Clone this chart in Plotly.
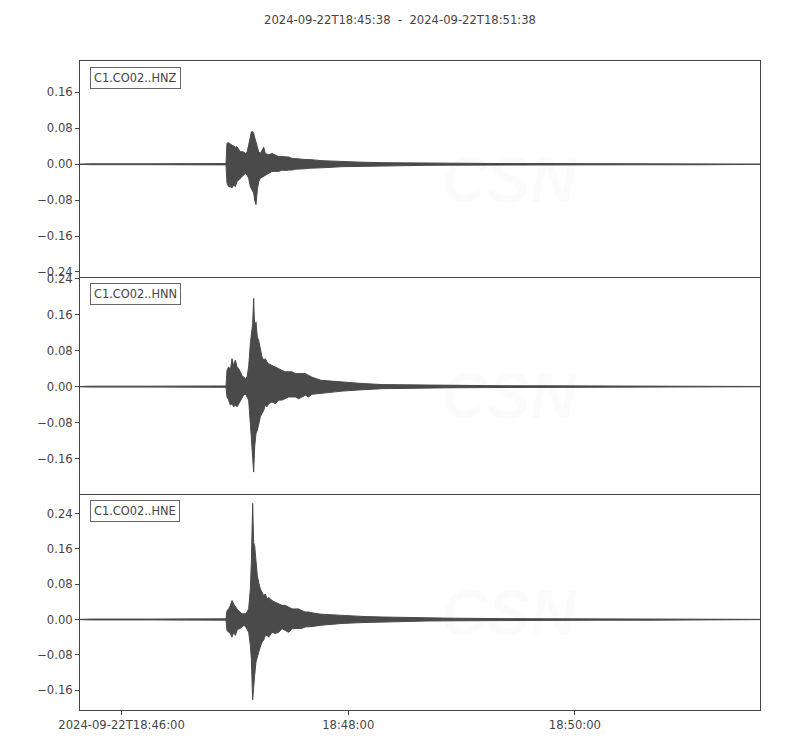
import pandas as pd
import plotly.graph_objects as go
from plotly.subplots import make_subplots

# ---------------- data ----------------
START = "2024-09-22 18:45:38"
TITLE = "2024-09-22T18:45:38  -  2024-09-22T18:51:38"
CHANNELS = ["C1.CO02..HNZ", "C1.CO02..HNN", "C1.CO02..HNE"]

# sample times in seconds after START (envelope read points)
T_SEC = [0.0, 2.6, 5.3, 37.1, 63.5, 77.3,
         77.82, 78.71, 79.59, 80.47, 81.35, 82.24, 83.12, 84.00, 84.88, 85.76,
         86.65, 87.53, 88.41, 89.29, 90.18, 90.71, 91.41, 91.94, 92.47, 93.18,
         93.88, 94.59, 95.47, 96.35, 97.24, 98.12, 99.00, 99.88, 101.65, 103.41,
         105.18, 106.94, 108.71, 110.47, 112.24, 114.00, 115.76, 117.53, 119.29,
         121.06, 122.82,
         127.6, 138.7, 149.3, 160.4, 171.5, 182.6, 195.9, 222.4, 248.8, 275.3,
         301.8, 328.2, 352.1, 357.4, 360.0]

# upper / lower envelope of each trace
TOP_HNZ = [0.0003, 0.0008, 0.001, 0.001, 0.001, 0.0015,
           0.047, 0.048, 0.045, 0.043, 0.041, 0.038, 0.039, 0.032, 0.028, 0.028,
           0.027, 0.024, 0.026, 0.043, 0.061, 0.072, 0.073, 0.069, 0.060, 0.050,
           0.036, 0.028, 0.024, 0.030, 0.038, 0.024, 0.022, 0.021, 0.024, 0.021,
           0.017, 0.017, 0.016, 0.016, 0.013, 0.013, 0.012, 0.011, 0.011,
           0.010, 0.010,
           0.008, 0.0055, 0.0045, 0.0035, 0.003, 0.0025, 0.002, 0.0015, 0.0015, 0.0012,
           0.0012, 0.0012, 0.001, 0.0006, 0.0003]
BOT_HNZ = [-0.0003, -0.0008, -0.001, -0.001, -0.001, -0.0015,
           -0.042, -0.050, -0.050, -0.053, -0.046, -0.050, -0.039, -0.035, -0.033, -0.027,
           -0.024, -0.020, -0.024, -0.031, -0.050, -0.055, -0.060, -0.064, -0.080, -0.090,
           -0.057, -0.039, -0.031, -0.029, -0.027, -0.024, -0.022, -0.020, -0.016, -0.016,
           -0.016, -0.013, -0.014, -0.013, -0.013, -0.011, -0.011, -0.010, -0.010,
           -0.009, -0.009,
           -0.008, -0.0055, -0.0045, -0.0035, -0.003, -0.0025, -0.002, -0.0015, -0.0015, -0.0012,
           -0.0012, -0.0012, -0.001, -0.0006, -0.0003]

TOP_HNN = [0.0003, 0.0008, 0.001, 0.001, 0.001, 0.0015,
           0.036, 0.044, 0.036, 0.062, 0.047, 0.059, 0.044, 0.040, 0.033, 0.025,
           0.021, 0.018, 0.021, 0.044, 0.096, 0.120, 0.140, 0.196, 0.130, 0.144,
           0.110, 0.103, 0.084, 0.066, 0.059, 0.062, 0.055, 0.051, 0.047, 0.044,
           0.040, 0.036, 0.033, 0.033, 0.033, 0.029, 0.029, 0.029, 0.029,
           0.025, 0.021,
           0.014, 0.010, 0.007, 0.0045, 0.004, 0.003, 0.0025, 0.002, 0.0018, 0.0015,
           0.0015, 0.0013, 0.001, 0.0006, 0.0003]
BOT_HNN = [-0.0003, -0.0008, -0.001, -0.001, -0.001, -0.0015,
           -0.023, -0.030, -0.041, -0.038, -0.045, -0.041, -0.045, -0.038, -0.030, -0.023,
           -0.019, -0.016, -0.023, -0.030, -0.082, -0.112, -0.150, -0.190, -0.134, -0.104,
           -0.097, -0.082, -0.067, -0.060, -0.053, -0.041, -0.045, -0.038, -0.034, -0.038,
           -0.030, -0.030, -0.027, -0.023, -0.023, -0.023, -0.027, -0.023, -0.019,
           -0.023, -0.017,
           -0.015, -0.010, -0.007, -0.0045, -0.004, -0.003, -0.0025, -0.002, -0.0018, -0.0015,
           -0.0015, -0.0013, -0.001, -0.0006, -0.0003]

TOP_HNE = [0.0003, 0.0008, 0.001, 0.001, 0.001, 0.0015,
           0.020, 0.024, 0.032, 0.043, 0.035, 0.028, 0.024, 0.020, 0.017, 0.013,
           0.013, 0.013, 0.017, 0.024, 0.069, 0.129, 0.263, 0.174, 0.167, 0.129,
           0.099, 0.084, 0.069, 0.062, 0.054, 0.058, 0.047, 0.050, 0.043, 0.039,
           0.035, 0.032, 0.032, 0.028, 0.024, 0.024, 0.024, 0.020, 0.017,
           0.017, 0.015,
           0.012, 0.009, 0.007, 0.0056, 0.0045, 0.0035, 0.003, 0.002, 0.0018, 0.0015,
           0.0015, 0.0013, 0.001, 0.0006, 0.0003]
BOT_HNE = [-0.0003, -0.0008, -0.001, -0.001, -0.001, -0.0015,
           -0.025, -0.029, -0.032, -0.040, -0.029, -0.036, -0.025, -0.021, -0.020, -0.017,
           -0.014, -0.015, -0.021, -0.029, -0.059, -0.089, -0.182, -0.141, -0.126, -0.096,
           -0.081, -0.074, -0.062, -0.051, -0.047, -0.036, -0.036, -0.040, -0.029, -0.032,
           -0.029, -0.021, -0.025, -0.029, -0.021, -0.021, -0.021, -0.020, -0.017,
           -0.017, -0.016,
           -0.013, -0.009, -0.007, -0.0056, -0.0045, -0.0035, -0.003, -0.002, -0.0018, -0.0015,
           -0.0015, -0.0013, -0.001, -0.0006, -0.0003]

Y_RANGES = [[-0.252, 0.230], [-0.238, 0.243], [-0.205, 0.285]]
Y_TICKS = [[-0.24, -0.16, -0.08, 0.0, 0.08, 0.16],
           [-0.16, -0.08, 0.0, 0.08, 0.16, 0.24],
           [-0.16, -0.08, 0.0, 0.08, 0.16, 0.24]]
X_TICKS = ["2024-09-22 18:46:00", "2024-09-22 18:48:00", "2024-09-22 18:50:00"]
X_TICK_TEXT = ["2024-09-22T18:46:00", "18:48:00", "18:50:00"]
END = "2024-09-22 18:51:38"

# ---------------- figure ----------------
WAVE = "#4a4a4a"
AX = "#444444"
FONT = "DejaVu Sans"
W, H = 792, 742   # page body keeps an 8px margin

t0 = pd.Timestamp(START)
times = [t0 + pd.Timedelta(seconds=s) for s in T_SEC]

fig = make_subplots(rows=3, cols=1, shared_xaxes=True, vertical_spacing=0)

tops = [TOP_HNZ, TOP_HNN, TOP_HNE]
bots = [BOT_HNZ, BOT_HNN, BOT_HNE]

def fmt(v):
    s = f"{abs(v):.2f}"
    return ("\u2212" + s) if v < 0 else s

for i in range(3):
    r = i + 1
    fig.add_trace(go.Scatter(x=times, y=tops[i], mode="lines",
                             line=dict(color=WAVE, width=1), showlegend=False,
                             hoverinfo="skip"), row=r, col=1)
    fig.add_trace(go.Scatter(x=times, y=bots[i], mode="lines", fill="tonexty",
                             fillcolor=WAVE, line=dict(color=WAVE, width=1),
                             showlegend=False, hoverinfo="skip"), row=r, col=1)
    fig.update_yaxes(row=r, col=1, range=Y_RANGES[i], tickvals=Y_TICKS[i],
                     ticktext=[fmt(v) for v in Y_TICKS[i]],
                     showline=True, mirror=True, linecolor=AX, linewidth=1,
                     ticks="outside", ticklen=4, tickcolor=AX,
                     showgrid=False, zeroline=False,
                     tickfont=dict(family=FONT, size=11.6, color=AX))
    fig.update_xaxes(row=r, col=1, type="date", range=[START, END],
                     tickvals=X_TICKS, ticktext=X_TICK_TEXT,
                     showline=True, mirror=(r == 1), linecolor=AX, linewidth=1,
                     showgrid=False, zeroline=False,
                     ticks="outside" if r == 3 else "", ticklen=4, tickcolor=AX,
                     showticklabels=(r == 3),
                     tickfont=dict(family=FONT, size=11.6, color=AX))
    xd = "x domain" if r == 1 else f"x{r} domain"
    yd = "y domain" if r == 1 else f"y{r} domain"
    # faint watermark
    fig.add_annotation(text="<b><i>CSN</i></b>", xref=xd, yref=yd, x=0.632, y=0.45,
                       xanchor="center", yanchor="middle", showarrow=False,
                       font=dict(family="Liberation Sans", size=64,
                                 color="rgba(0,0,0,0.014)"))
    fig.add_annotation(text="<i>CENTRO SISMOLÓGICO NACIONAL<br>UNIVERSIDAD DE CHILE</i>",
                       xref=xd, yref=yd, x=0.99, y=0.30, align="left",
                       xanchor="right", yanchor="top", showarrow=False,
                       font=dict(family="Liberation Sans Narrow, Liberation Sans", size=15,
                                 color="rgba(0,0,0,0.014)"))
    # channel label
    fig.add_annotation(text=CHANNELS[i], xref=xd, yref=yd, x=0.0145, y=0.972,
                       xanchor="left", yanchor="top", showarrow=False,
                       font=dict(family=FONT, size=11.4, color=AX),
                       bordercolor="#666666", borderwidth=1, borderpad=3,
                       bgcolor="white")

fig.update_layout(
    width=W, height=H,
    margin=dict(l=72, r=40, t=53, b=40),
    paper_bgcolor="white", plot_bgcolor="white",
    title=dict(text=TITLE, x=0.5 - 4 / W, xanchor="center",
               y=1 - 12 / H, yanchor="middle",
               font=dict(family=FONT, size=11.6, color=AX)),
    font=dict(family=FONT, color=AX),
)

fig.write_html("out.html")
